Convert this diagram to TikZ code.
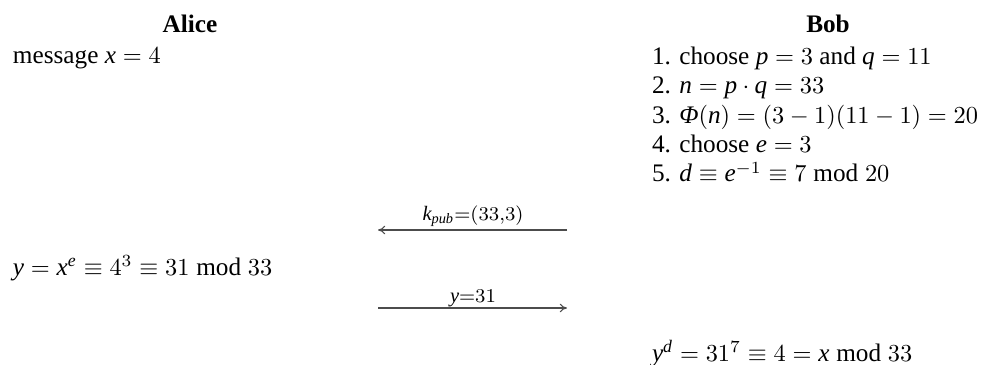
\documentclass[tikz,border=0pt]{standalone}
\usepackage{fontspec}
\setmainfont{Liberation Serif}
\usetikzlibrary{arrows.meta}
\newcommand{\V}[1]{\mathit{#1}}
\begin{document}
\begin{tikzpicture}[x=0.41pt,y=-0.41pt,
  txt/.style={inner sep=0pt,outer sep=0pt,font=\fontsize{10.35}{12}\selectfont},
  hdr/.style={txt,anchor=base,font=\fontsize{10.35}{12}\selectfont\bfseries},
  lft/.style={txt,anchor=base west},
  msg/.style={line width=0.45pt,draw=black!70,-{To[length=3pt,width=3.6pt]}},
  lbl/.style={inner sep=0pt,anchor=base,font=\fontsize{8.4}{10}\selectfont}]
\useasboundingbox (0,0) rectangle (992,365);
% headers
\node[hdr] (alice) at (190,33) {Alice};
\node[hdr] (bob) at (828,33) {Bob};
% Alice
\node[lft] (a1) at (13,64) {message $\V{x}=4$};
\node[lft] (a2) at (13,275) {$\V{y}=\V{x}^{\V{e}}\equiv 4^3\equiv 31 \bmod 33$};
% Bob
\node[lft] (b1) at (652,65) {1. choose $\V{p}=3$ and $\V{q}=11$};
\node[lft] (b2) at (652,94) {2. $\V{n}=\V{p}\cdot \V{q}=33$};
\node[lft] (b3) at (652,123.5) {3. $\textit{Φ}(\V{n})=(3-1)(11-1)=20$};
\node[lft] (b4) at (652,153) {4. choose $\V{e}=3$};
\node[lft] (b5) at (652,182) {5. $\V{d}\equiv \V{e}^{-1}\equiv 7 \bmod 20$};
\node[lft] (b6) at (652,361) {$\V{y}^{\V{d}}=31^7\equiv 4=\V{x} \bmod 33$};
% messages
\coordinate (k1) at (567,230);
\coordinate (k2) at (378,230);
\coordinate (y1) at (378,308);
\coordinate (y2) at (567,308);
\draw[msg] (k1) -- (k2);
\draw[msg] (y1) -- (y2);
\node[lbl] (klbl) at (473,220) {$\V{k}_{\V{pub}}{=}(33{,}3)$};
\node[lbl] (ylbl) at (473,302) {$\V{y}{=}31$};
\end{tikzpicture}
\end{document}
